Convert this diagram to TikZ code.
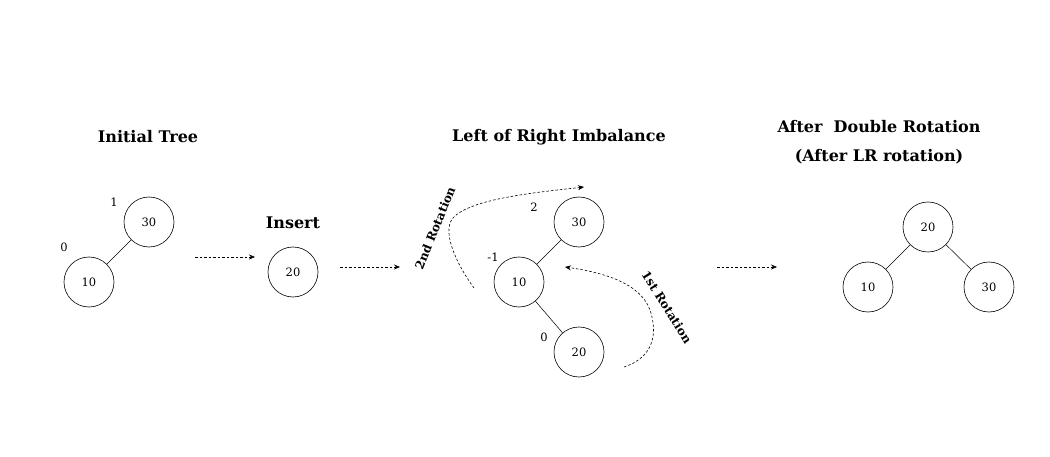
\documentclass[tikz,border=0pt]{standalone}
\usepackage{fontspec}
\setmainfont{DejaVu Serif}
\usetikzlibrary{arrows.meta}
\begin{document}
\begin{tikzpicture}[x=1pt,y=-1pt,
  treenode/.style={draw,circle,minimum size=50pt,inner sep=0pt,font=\fontsize{11.5}{13}\selectfont,line width=0.6pt},
  title/.style={font=\fontsize{16}{18}\selectfont\bfseries},
  bal/.style={font=\fontsize{11.5}{13}\selectfont},
  edge/.style={line width=0.5pt},
  flow/.style={dashed,dash pattern=on 2.5pt off 2pt,line width=0.6pt,-{Stealth[length=6pt,width=5pt]}},
  rot/.style={font=\fontsize{12}{14}\selectfont\bfseries,inner sep=0pt}]
\useasboundingbox (0,0) rectangle (1050,457);
% Initial tree
\node[title] (t1) at (148,137) {Initial Tree};
\node[treenode] (a30) at (149,222) {30};
\node[treenode] (a10) at (89,282) {10};
\node[bal] (b1) at (114,202) {1};
\node[bal] (b0) at (64,247) {0};
\draw[edge] (a10) -- (a30);
% Insert
\coordinate (f1s) at (195,257);
\coordinate (f1e) at (255,257);
\draw[flow] (f1s) -- (f1e);
\node[title] (t2) at (293,223) {Insert};
\node[treenode] (i20) at (293,272) {20};
\coordinate (f2s) at (340,267);
\coordinate (f2e) at (400,267);
\draw[flow] (f2s) -- (f2e);
% Imbalance
\node[title] (t3) at (559,137) {Left of Right Imbalance};
\node[treenode] (c30) at (579,222) {30};
\node[treenode] (c10) at (519,282) {10};
\node[treenode] (c20) at (579,352) {20};
\node[bal] (cb2) at (534,207) {2};
\node[bal] (cb1) at (493,257) {-1};
\node[bal] (cb0) at (544,337) {0};
\draw[edge] (c10) -- (c30);
\draw[edge] (c10) -- (c20);
% 2nd rotation
\node[rot,rotate=68] (r2) at (435,228) {2nd Rotation};
\coordinate (r2s) at (474,288);
\coordinate (r2e) at (584,187);
\draw[flow] (r2s) .. controls (455,262) and (440,228) .. (455,216) .. controls (475,198) and (540,192) .. (r2e);
% 1st rotation
\node[rot,rotate=-58] (r1) at (667,307) {1st Rotation};
\coordinate (r1s) at (624,367);
\coordinate (r1e) at (565,267);
\draw[flow] (r1s) .. controls (660,355) and (655,325) .. (650,310) .. controls (640,282) and (600,272) .. (r1e);
% arrow to result
\coordinate (f3s) at (717,267);
\coordinate (f3e) at (777,267);
\draw[flow] (f3s) -- (f3e);
% Result
\node[title] (t4) at (879,127) {After\ \ Double Rotation};
\node[title] (t5) at (879,157) {(After LR rotation)};
\node[treenode] (d20) at (928,227) {20};
\node[treenode] (d10) at (868,287) {10};
\node[treenode] (d30) at (989,287) {30};
\draw[edge] (d20) -- (d10);
\draw[edge] (d20) -- (d30);
\end{tikzpicture}
\end{document}
